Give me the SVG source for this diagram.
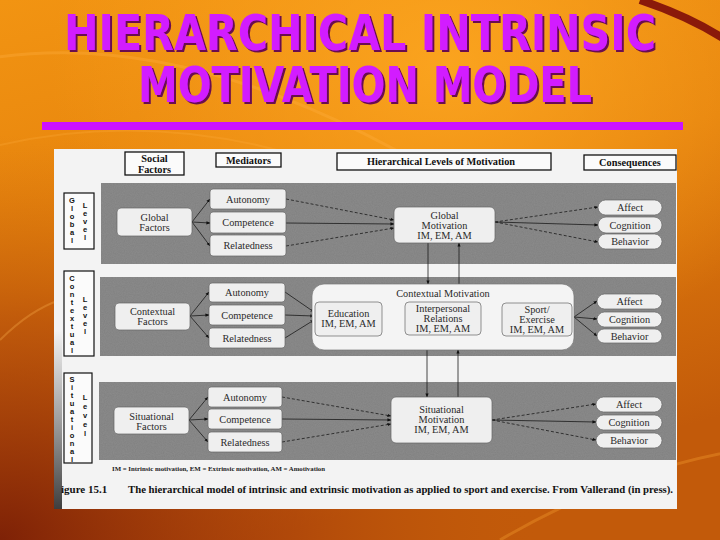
<svg xmlns="http://www.w3.org/2000/svg" width="720" height="540" viewBox="0 0 720 540">
<defs>
<linearGradient id="bg" x1="0" y1="0" x2="0.35" y2="1">
<stop offset="0" stop-color="#F29412"/>
<stop offset="0.5" stop-color="#E4800C"/>
<stop offset="1" stop-color="#C25A0A"/>
</linearGradient>
<radialGradient id="dark" cx="0" cy="1" r="0.75">
<stop offset="0" stop-color="#7A1E06" stop-opacity="0.95"/>
<stop offset="0.55" stop-color="#A0380A" stop-opacity="0.5"/>
<stop offset="1" stop-color="#C05A0A" stop-opacity="0"/>
</radialGradient>
<radialGradient id="glow" cx="0.62" cy="0.12" r="0.55">
<stop offset="0" stop-color="#FFAA22" stop-opacity="0.8"/>
<stop offset="1" stop-color="#FFAA22" stop-opacity="0"/>
</radialGradient>
<linearGradient id="scan" x1="0" y1="0" x2="0" y2="1">
<stop offset="0" stop-color="#222" stop-opacity="0"/>
<stop offset="0.5" stop-color="#222" stop-opacity="0.4"/>
<stop offset="1" stop-color="#111" stop-opacity="0.8"/>
</linearGradient>
<marker id="ah" viewBox="0 0 10 10" refX="9" refY="5" markerWidth="5" markerHeight="5" orient="auto-start-reverse">
<path d="M0,1 L10,5 L0,9 z" fill="#111"/>
</marker>
<filter id="shadow" x="-5%" y="-20%" width="110%" height="150%">
<feOffset in="SourceAlpha" dx="2" dy="2" result="o"/>
<feFlood flood-color="#6A1050"/>
<feComposite in2="o" operator="in" result="s"/>
<feMerge><feMergeNode in="s"/><feMergeNode in="SourceGraphic"/></feMerge>
</filter>
<filter id="noise" x="0" y="0" width="1" height="1">
<feTurbulence type="fractalNoise" baseFrequency="0.9" numOctaves="2" seed="3" result="n"/>
<feColorMatrix in="n" type="matrix" values="0 0 0 0 0.5  0 0 0 0 0.5  0 0 0 0 0.5  0 0 0 0.35 0" result="g"/>
<feComposite in="g" in2="SourceGraphic" operator="in" result="m"/>
<feBlend in="SourceGraphic" in2="m" mode="multiply"/>
</filter>
</defs>
<style>
.title{font-family:"DejaVu Sans",sans-serif;font-weight:bold;font-size:41px;text-anchor:middle;fill:#D21EFF}
.hdr{font-family:"Liberation Serif",serif;font-weight:bold;font-size:10.3px;fill:#111;text-anchor:middle}
.hbox{fill:#fbfbfb;stroke:#111;stroke-width:1.3}
.band{fill:#8c8c8c}
.box{fill:#efefef;stroke:#666;stroke-width:0.7}
.t{font-family:"Liberation Serif",serif;font-size:10.3px;fill:#2a2a2a;text-anchor:middle}
.lv{font-family:"Liberation Sans",sans-serif;font-weight:bold;font-size:7.5px;fill:#111;text-anchor:middle}
.lbox{fill:#fbfbfb;stroke:#111;stroke-width:1.2}
.c{stroke:#1a1a1a;stroke-width:0.8;fill:none}
.d{stroke:#1a1a1a;stroke-width:0.8;fill:none;stroke-dasharray:3 2}
</style>

<!-- background -->
<rect width="720" height="540" fill="url(#bg)"/>
<rect width="720" height="540" fill="url(#glow)"/>
<rect width="720" height="540" fill="url(#dark)"/>
<path d="M-20,60 Q200,20 480,200" fill="none" stroke="#FFB040" stroke-opacity="0.35" stroke-width="3"/>
<path d="M-20,150 Q240,80 520,260" fill="none" stroke="#FFB040" stroke-opacity="0.25" stroke-width="2"/>
<path d="M0,340 Q30,310 60,300" fill="none" stroke="#F0A040" stroke-opacity="0.4" stroke-width="2"/>
<path d="M640,0 Q700,20 740,50" fill="none" stroke="#8A1A0A" stroke-width="8"/>
<path d="M500,540 Q620,470 740,450" fill="none" stroke="#F7A030" stroke-opacity="0.35" stroke-width="3"/>

<!-- title -->
<g id="title" filter="url(#shadow)">
<g transform="scale(1,1.23)">
<text class="title"><tspan x="360" y="40.7" textLength="592" lengthAdjust="spacingAndGlyphs">HIERARCHICAL INTRINSIC</tspan><tspan x="365" y="82.9" textLength="454" lengthAdjust="spacingAndGlyphs">MOTIVATION MODEL</tspan></text>
</g>
</g>
<rect x="42" y="122" width="641" height="8" fill="#CC11FF"/>

<!-- figure panel -->
<rect x="54" y="149" width="623" height="360" fill="#f3f3f3"/>
<rect x="54" y="330" width="8" height="179" fill="url(#scan)"/>
<g filter="url(#noise)">
<rect class="band" x="101" y="183" width="575" height="81"/>
<rect class="band" x="100" y="277" width="576" height="79"/>
<rect class="band" x="99" y="382" width="577" height="78"/>
</g>

<!-- headers -->
<g id="hdr-social"><rect class="hbox" x="125" y="152" width="59" height="23"/><text class="hdr" x="154.5" y="162">Social</text><text class="hdr" x="154.5" y="172.5">Factors</text></g>
<g id="hdr-mediators"><rect class="hbox" x="216" y="153" width="65" height="14"/><text class="hdr" x="248.5" y="163.8">Mediators</text></g>
<g id="hdr-levels"><rect class="hbox" x="337" y="153" width="214" height="17"/><text class="hdr" x="441" y="165">Hierarchical Levels of Motivation</text></g>
<g id="hdr-consequences"><rect class="hbox" x="584" y="155" width="92" height="15"/><text class="hdr" x="630" y="166">Consequences</text></g>

<!-- level labels -->
<g id="lvl-global"><rect class="lbox" x="64" y="193" width="30" height="56"/>
<text class="lv"><tspan x="72" y="203">G</tspan><tspan x="72" dy="8">l</tspan><tspan x="72" dy="8">o</tspan><tspan x="72" dy="8">b</tspan><tspan x="72" dy="8">a</tspan><tspan x="72" dy="8">l</tspan></text>
<text class="lv"><tspan x="85" y="208">L</tspan><tspan x="85" dy="8">e</tspan><tspan x="85" dy="8">v</tspan><tspan x="85" dy="8">e</tspan><tspan x="85" dy="8">l</tspan></text></g>
<g id="lvl-contextual"><rect class="lbox" x="64" y="271" width="30" height="85"/>
<text class="lv"><tspan x="72" y="281">C</tspan><tspan x="72" dy="8">o</tspan><tspan x="72" dy="8">n</tspan><tspan x="72" dy="8">t</tspan><tspan x="72" dy="8">e</tspan><tspan x="72" dy="8">x</tspan><tspan x="72" dy="8">t</tspan><tspan x="72" dy="8">u</tspan><tspan x="72" dy="8">a</tspan><tspan x="72" dy="8">l</tspan></text>
<text class="lv"><tspan x="85" y="302">L</tspan><tspan x="85" dy="8">e</tspan><tspan x="85" dy="8">v</tspan><tspan x="85" dy="8">e</tspan><tspan x="85" dy="8">l</tspan></text></g>
<g id="lvl-situational"><rect class="lbox" x="64" y="373" width="28" height="90"/>
<text class="lv"><tspan x="72" y="382">S</tspan><tspan x="72" dy="8">i</tspan><tspan x="72" dy="8">t</tspan><tspan x="72" dy="8">u</tspan><tspan x="72" dy="8">a</tspan><tspan x="72" dy="8">t</tspan><tspan x="72" dy="8">i</tspan><tspan x="72" dy="8">o</tspan><tspan x="72" dy="8">n</tspan><tspan x="72" dy="8">a</tspan><tspan x="72" dy="8">l</tspan></text>
<text class="lv"><tspan x="85" y="400">L</tspan><tspan x="85" dy="9">e</tspan><tspan x="85" dy="9">v</tspan><tspan x="85" dy="9">e</tspan><tspan x="85" dy="9">l</tspan></text></g>

<!-- connectors -->
<g id="connectors">
<line class="c" x1="192" y1="222" x2="210" y2="199" marker-end="url(#ah)"/>
<line class="c" x1="192" y1="222" x2="210" y2="223" marker-end="url(#ah)"/>
<line class="c" x1="192" y1="222" x2="210" y2="246" marker-end="url(#ah)"/>
<line class="d" x1="286" y1="199" x2="394" y2="220" marker-end="url(#ah)"/>
<line class="c" x1="286" y1="223" x2="394" y2="224" marker-end="url(#ah)"/>
<line class="d" x1="286" y1="246" x2="394" y2="228" marker-end="url(#ah)"/>
<line class="d" x1="495" y1="222" x2="598" y2="207" marker-end="url(#ah)"/>
<line class="c" x1="495" y1="222" x2="598" y2="225" marker-end="url(#ah)"/>
<line class="d" x1="495" y1="222" x2="598" y2="242" marker-end="url(#ah)"/>
<line class="c" x1="428" y1="243" x2="428" y2="284" marker-end="url(#ah)"/>
<line class="c" x1="459" y1="284" x2="459" y2="243" marker-end="url(#ah)"/>

<line class="c" x1="190" y1="316" x2="209" y2="292" marker-end="url(#ah)"/>
<line class="c" x1="190" y1="316" x2="209" y2="315" marker-end="url(#ah)"/>
<line class="c" x1="190" y1="316" x2="209" y2="338" marker-end="url(#ah)"/>
<line class="c" x1="285" y1="292" x2="314" y2="312" marker-end="url(#ah)"/>
<line class="c" x1="285" y1="315" x2="314" y2="316" marker-end="url(#ah)"/>
<line class="c" x1="285" y1="338" x2="314" y2="320" marker-end="url(#ah)"/>
<line class="c" x1="382" y1="318" x2="405" y2="318" marker-start="url(#ah)" marker-end="url(#ah)"/>
<line class="c" x1="481" y1="318" x2="502" y2="318" marker-start="url(#ah)" marker-end="url(#ah)"/>
<polyline class="c" points="348,337 348,345 539,345 539,337" marker-start="url(#ah)" marker-end="url(#ah)"/>
<line class="c" x1="574" y1="317" x2="597" y2="301" marker-end="url(#ah)"/>
<line class="c" x1="574" y1="317" x2="597" y2="319" marker-end="url(#ah)"/>
<line class="c" x1="574" y1="317" x2="597" y2="336" marker-end="url(#ah)"/>
<line class="c" x1="427" y1="350" x2="427" y2="397" marker-end="url(#ah)"/>
<line class="c" x1="458" y1="397" x2="458" y2="350" marker-end="url(#ah)"/>

<line class="c" x1="189" y1="420" x2="208" y2="397" marker-end="url(#ah)"/>
<line class="c" x1="189" y1="420" x2="208" y2="419" marker-end="url(#ah)"/>
<line class="c" x1="189" y1="420" x2="208" y2="442" marker-end="url(#ah)"/>
<line class="d" x1="282" y1="397" x2="391" y2="416" marker-end="url(#ah)"/>
<line class="c" x1="282" y1="419" x2="391" y2="420" marker-end="url(#ah)"/>
<line class="d" x1="282" y1="442" x2="391" y2="424" marker-end="url(#ah)"/>
<line class="d" x1="492" y1="420" x2="596" y2="404" marker-end="url(#ah)"/>
<line class="c" x1="492" y1="420" x2="596" y2="422" marker-end="url(#ah)"/>
<line class="d" x1="492" y1="420" x2="596" y2="440" marker-end="url(#ah)"/>
</g>

<!-- global level -->
<g id="global-factors"><rect class="box" x="117" y="208" width="75" height="28" rx="4"/><text class="t" x="154.5" y="220.5">Global</text><text class="t" x="154.5" y="230.5">Factors</text></g>
<g id="g-autonomy"><rect class="box" x="210" y="189" width="76" height="20" rx="3"/><text class="t" x="248" y="202.5">Autonomy</text></g>
<g id="g-competence"><rect class="box" x="210" y="212" width="76" height="21" rx="3"/><text class="t" x="248" y="226">Competence</text></g>
<g id="g-relatedness"><rect class="box" x="210" y="235" width="76" height="21" rx="3"/><text class="t" x="248" y="249">Relatedness</text></g>
<g id="global-motivation"><rect class="box" x="394" y="207" width="101" height="36" rx="5"/><text class="t" x="444.5" y="218.5">Global</text><text class="t" x="444.5" y="228.5">Motivation</text><text class="t" x="444.5" y="238.5">IM, EM, AM</text></g>
<g id="g-affect"><rect class="box" x="598" y="200" width="64" height="15" rx="7.5"/><text class="t" x="630" y="211">Affect</text></g>
<g id="g-cognition"><rect class="box" x="598" y="217" width="64" height="16" rx="8"/><text class="t" x="630" y="228.5">Cognition</text></g>
<g id="g-behavior"><rect class="box" x="598" y="234" width="64" height="15" rx="7.5"/><text class="t" x="630" y="245">Behavior</text></g>

<!-- contextual level -->
<g id="contextual-factors"><rect class="box" x="115" y="303" width="75" height="27" rx="4"/><text class="t" x="152.5" y="314.5">Contextual</text><text class="t" x="152.5" y="324.5">Factors</text></g>
<g id="c-autonomy"><rect class="box" x="209" y="283" width="76" height="19" rx="3"/><text class="t" x="247" y="296">Autonomy</text></g>
<g id="c-competence"><rect class="box" x="209" y="305" width="76" height="20" rx="3"/><text class="t" x="247" y="318.5">Competence</text></g>
<g id="c-relatedness"><rect class="box" x="209" y="328" width="76" height="20" rx="3"/><text class="t" x="247" y="341.5">Relatedness</text></g>
<g id="contextual-motivation"><rect x="312" y="284" width="262" height="66" rx="12" fill="#f4f4f4" stroke="#777" stroke-width="0.7"/><text class="t" x="443" y="296.5">Contextual Motivation</text></g>
<g id="education"><rect class="box" x="315" y="302" width="67" height="34" rx="4" fill="#f4f4f4"/><text class="t" x="348.5" y="316.5">Education</text><text class="t" x="348.5" y="326.5">IM, EM, AM</text></g>
<g id="interpersonal"><rect class="box" x="405" y="302" width="76" height="33" rx="4" fill="#f4f4f4"/><text class="t" x="443" y="311.5">Interpersonal</text><text class="t" x="443" y="321.5">Relations</text><text class="t" x="443" y="331.5">IM, EM, AM</text></g>
<g id="sport"><rect class="box" x="502" y="303" width="70" height="33" rx="4" fill="#f4f4f4"/><text class="t" x="537" y="312.5">Sport/</text><text class="t" x="537" y="322.5">Exercise</text><text class="t" x="537" y="332.5">IM, EM, AM</text></g>
<g id="c-affect"><rect class="box" x="597" y="294" width="65" height="15" rx="7.5"/><text class="t" x="629.5" y="305">Affect</text></g>
<g id="c-cognition"><rect class="box" x="597" y="312" width="65" height="15" rx="7.5"/><text class="t" x="629.5" y="323">Cognition</text></g>
<g id="c-behavior"><rect class="box" x="597" y="329" width="65" height="14" rx="7"/><text class="t" x="629.5" y="339.5">Behavior</text></g>

<!-- situational level -->
<g id="situational-factors"><rect class="box" x="114" y="407" width="75" height="27" rx="4"/><text class="t" x="151.5" y="419.5">Situational</text><text class="t" x="151.5" y="429.5">Factors</text></g>
<g id="s-autonomy"><rect class="box" x="208" y="387" width="74" height="20" rx="3"/><text class="t" x="245" y="400.5">Autonomy</text></g>
<g id="s-competence"><rect class="box" x="208" y="409" width="74" height="20" rx="3"/><text class="t" x="245" y="422.5">Competence</text></g>
<g id="s-relatedness"><rect class="box" x="208" y="432" width="74" height="20" rx="3"/><text class="t" x="245" y="445.5">Relatedness</text></g>
<g id="situational-motivation"><rect class="box" x="391" y="397" width="101" height="46" rx="5"/><text class="t" x="441.5" y="412.5">Situational</text><text class="t" x="441.5" y="422.5">Motivation</text><text class="t" x="441.5" y="432.5">IM, EM, AM</text></g>
<g id="s-affect"><rect class="box" x="596" y="397" width="66" height="15" rx="7.5"/><text class="t" x="629" y="408">Affect</text></g>
<g id="s-cognition"><rect class="box" x="596" y="415" width="66" height="15" rx="7.5"/><text class="t" x="629" y="426">Cognition</text></g>
<g id="s-behavior"><rect class="box" x="596" y="433" width="66" height="15" rx="7.5"/><text class="t" x="629" y="444">Behavior</text></g>

<!-- footnote and caption -->
<text x="112" y="471" font-family="Liberation Serif, serif" font-weight="bold" font-size="5.5" fill="#222" textLength="213" lengthAdjust="spacingAndGlyphs">IM = Intrinsic motivation, EM = Extrinsic motivation, AM = Amotivation</text>
<text x="61" y="493" font-family="Liberation Serif, serif" font-weight="bold" font-size="11" fill="#111">igure 15.1</text>
<text x="128" y="493" font-family="Liberation Serif, serif" font-weight="bold" font-size="10.5" fill="#111" textLength="545" lengthAdjust="spacingAndGlyphs">The hierarchical model of intrinsic and extrinsic motivation as applied to sport and exercise. From Vallerand (in press).</text>
</svg>
